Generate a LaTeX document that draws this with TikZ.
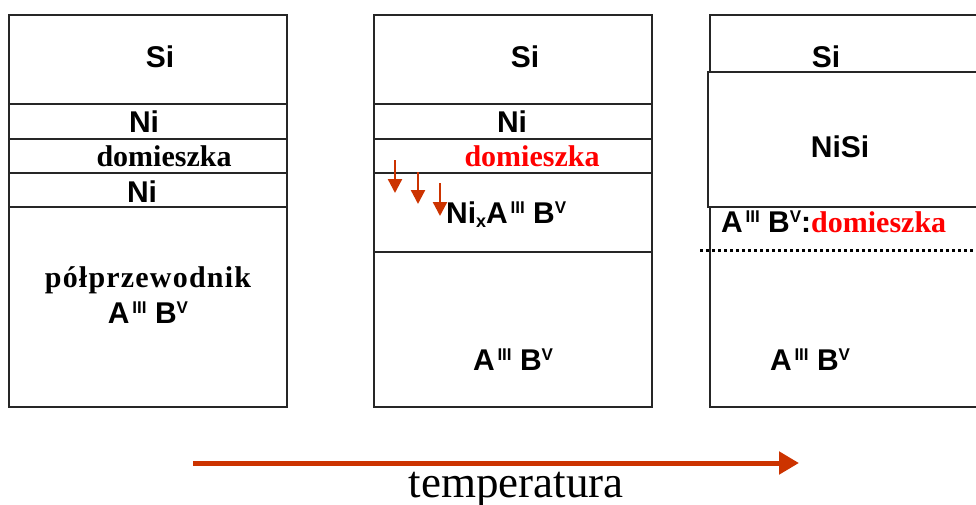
\documentclass[tikz,border=0pt]{standalone}
\usepackage{fontspec}
\setmainfont{Liberation Serif}
\setsansfont{Liberation Sans}
\usetikzlibrary{arrows.meta}
\definecolor{arr}{RGB}{204,51,0}
\definecolor{redtxt}{RGB}{255,0,0}
\newcommand\hup[1]{\raisebox{9.5pt}{\fontsize{17}{17}\selectfont #1}}
\newcommand\hdn[1]{\raisebox{-4pt}{\fontsize{18}{18}\selectfont #1}}
\newcommand\AB{A\hup{\,III} B\hup{V}}
\begin{document}
\begin{tikzpicture}[x=1pt,y=-1pt,
  sf/.style={font=\sffamily\bfseries\fontsize{30}{30}\selectfont, inner sep=0pt, anchor=base},
  rm/.style={font=\rmfamily\bfseries\fontsize{30}{30}\selectfont, inner sep=0pt, anchor=base},
  layer/.style={draw=black!85, line width=1.3pt},
  small arrow/.style={draw=arr, line width=2.3pt, -{Triangle[length=14pt,width=14pt]}},
  big arrow/.style={draw=arr, line width=5pt, -{Triangle[length=20pt,width=22pt]}}]
\useasboundingbox (0,0) rectangle (976,504);
\clip (0,0) rectangle (976,504);
% box 1
\draw[layer] (9,15) rectangle (287,407);
\draw[layer] (9,104) -- (287,104);
\draw[layer] (9,139) -- (287,139);
\draw[layer] (9,173) -- (287,173);
\draw[layer] (9,207) -- (287,207);
\node[sf] (si1) at (160,67) {Si};
\node[sf] (ni1a) at (144,132) {Ni};
\node[rm] (dom1) at (164,166) {domieszka};
\node[sf] (ni1b) at (142,202) {Ni};
\node[rm] (pp1) at (148,287) {\addfontfeature{LetterSpace=4}półprzewodnik};
\node[sf] (ab1) at (148,323) {\AB};
% box 2
\draw[layer] (374,15) rectangle (652,407);
\draw[layer] (374,104) -- (652,104);
\draw[layer] (374,139) -- (652,139);
\draw[layer] (374,173) -- (652,173);
\draw[layer] (374,252) -- (652,252);
\node[sf] (si2) at (525,67) {Si};
\node[sf] (ni2) at (512,132) {Ni};
\node[rm, text=redtxt] (dom2) at (532,166) {domieszka};
\node[sf, anchor=base west] (nix) at (446,223) {Ni\hdn{x}\AB};
\coordinate (a1s) at (395,160); \coordinate (a1e) at (395,193);
\coordinate (a2s) at (418,172); \coordinate (a2e) at (418,204);
\coordinate (a3s) at (440,183); \coordinate (a3e) at (440,216);
\draw[small arrow] (a1s) -- (a1e);
\draw[small arrow] (a2s) -- (a2e);
\draw[small arrow] (a3s) -- (a3e);
\node[sf] (ab2) at (513,370) {\AB};
% box 3
\draw[layer] (990,15) -- (710,15) -- (710,72);
\draw[layer] (710,207) -- (710,407) -- (990,407);
\draw[layer] (990,72) -- (708,72) -- (708,207) -- (990,207);
\draw[line width=3pt, dash pattern=on 2.5pt off 3.5pt] (700,250) -- (990,250);
\node[sf] (si3) at (826,67) {Si};
\node[sf] (nisi) at (840,157) {NiSi};
\node[sf, anchor=base west] (abd) at (721,232) {\AB:{\rmfamily\color{redtxt}domieszka}};
\node[sf] (ab3) at (810,370) {\AB};
% temperature arrow
\coordinate (t0) at (193,463);
\coordinate (t1) at (799,463);
\draw[big arrow] (t0) -- (t1);
\node[font=\rmfamily\fontsize{45}{45}\selectfont, inner sep=0pt, anchor=base] (temp) at (516,497) {temperatura};
\end{tikzpicture}
\end{document}
